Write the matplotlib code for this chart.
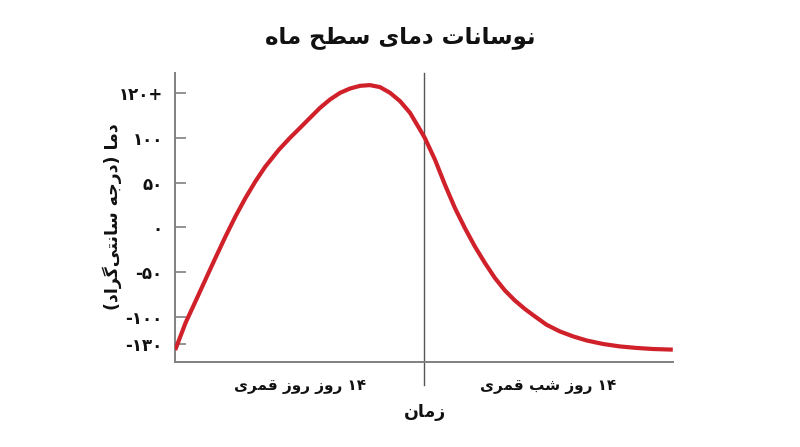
import matplotlib
matplotlib.use("Agg")
import matplotlib.pyplot as plt

# curve: time in days, temperature on the drawn scale
days = [0.0, 0.58, 1.14, 1.70, 2.26, 2.83, 3.39, 3.95, 4.51, 5.07, 5.83,
        6.46, 7.03, 7.59, 8.15, 8.71, 9.28, 9.84, 10.40, 10.96, 11.52, 12.09,
        12.65, 13.21, 13.77, 14.05, 14.62, 15.18, 15.74, 16.30, 16.86, 17.43,
        17.99, 18.55, 19.11, 19.68, 20.14, 20.89, 21.64, 22.39, 23.14, 24.08,
        25.01, 25.95, 26.89, 28.0]
temps = [-137, -106.8, -82.7, -58.4, -34.2, -10.1, 12.3, 32.8, 51.4, 68.0, 86.8,
         100.2, 111.4, 122.6, 133.7, 143.0, 150.5, 155.3, 158.3, 159.1, 156.9, 150.5,
         141.2, 128.2, 109.5, 99.9, 75.6, 47.7, 21.7, -0.7, -21.2, -39.8,
         -56.5, -70.4, -81.6, -91.2, -98.0, -108.7, -116.2, -121.8, -126.3, -130.3,
         -133.0, -134.7, -135.9, -136.6]

ytick_vals = [150, 100, 50, 0, -50, -100, -130]
ytick_labels = ["۱۲۰+", "۱۰۰", "۵۰", "۰", "-۵۰", "-۱۰۰", "-۱۳۰"]

title = "نوسانات دمای سطح ماه"
ylabel = "دما (درجه سانتی\u200cگراد)"
xlabel = "زمان"
day_label = "۱۴ روز روز قمری"
night_label = "۱۴ روز شب قمری"

# minimal Persian shaping (no reshaper lib in the sandbox)
FORMS = {
    "ا": ("\uFE8D", "\uFE8E", None, None),
    "ب": ("\uFE8F", "\uFE90", "\uFE91", "\uFE92"),
    "ت": ("\uFE95", "\uFE96", "\uFE97", "\uFE98"),
    "ج": ("\uFE9D", "\uFE9E", "\uFE9F", "\uFEA0"),
    "ح": ("\uFEA1", "\uFEA2", "\uFEA3", "\uFEA4"),
    "د": ("\uFEA9", "\uFEAA", None, None),
    "ر": ("\uFEAD", "\uFEAE", None, None),
    "ز": ("\uFEAF", "\uFEB0", None, None),
    "س": ("\uFEB1", "\uFEB2", "\uFEB3", "\uFEB4"),
    "ش": ("\uFEB5", "\uFEB6", "\uFEB7", "\uFEB8"),
    "ط": ("\uFEC1", "\uFEC2", "\uFEC3", "\uFEC4"),
    "ق": ("\uFED5", "\uFED6", "\uFED7", "\uFED8"),
    "م": ("\uFEE1", "\uFEE2", "\uFEE3", "\uFEE4"),
    "ن": ("\uFEE5", "\uFEE6", "\uFEE7", "\uFEE8"),
    "ه": ("\uFEE9", "\uFEEA", "\uFEEB", "\uFEEC"),
    "و": ("\uFEED", "\uFEEE", None, None),
    "ی": ("\uFBFC", "\uFBFD", "\uFBFE", "\uFBFF"),
    "گ": ("\uFB92", "\uFB93", "\uFB94", "\uFB95"),
}
DIGITS = set("۰۱۲۳۴۵۶۷۸۹0123456789")
MIRROR = {"(": ")", ")": "("}


def fa(text):
    shaped = []
    for i, ch in enumerate(text):
        if ch not in FORMS:
            shaped.append(ch)
            continue
        prev = text[i - 1] if i > 0 else ""
        nxt = text[i + 1] if i + 1 < len(text) else ""
        join_prev = prev in FORMS and FORMS[prev][2] is not None
        join_next = nxt in FORMS and FORMS[ch][2] is not None
        iso, fin, ini, med = FORMS[ch]
        if join_prev and join_next:
            shaped.append(med)
        elif join_prev:
            shaped.append(fin)
        elif join_next:
            shaped.append(ini)
        else:
            shaped.append(iso)
    shaped = [c for c in shaped if c != "\u200c"]
    # visual order: reverse, keeping digit runs left to right
    runs = []
    for c in shaped:
        if c in DIGITS and runs and runs[-1][0] in DIGITS:
            runs[-1] += c
        else:
            runs.append(c)
    return "".join(MIRROR.get(r, r) for r in reversed(runs))


plt.rcParams["font.family"] = ["DejaVu Sans"]
ink = "#111111"

fig = plt.figure(figsize=(8, 4.47), dpi=100)
ax = fig.add_axes([0.219, 0.191, 0.622, 0.646])

ax.plot(days, temps, color="#d0202a", linewidth=3.0, solid_joinstyle="round",
        solid_capstyle="butt", zorder=3)
ax.axvline(14, ymin=-0.081, ymax=1, color="#555555", linewidth=1.0, clip_on=False, zorder=2)

ax.set_xlim(0, 28)
ax.set_ylim(-150, 172.8)

for side in ["top", "right"]:
    ax.spines[side].set_visible(False)
for side in ["left", "bottom"]:
    ax.spines[side].set_color("#808080")
    ax.spines[side].set_linewidth(1.4)

ax.set_xticks([])
ax.set_yticks(ytick_vals)
ax.set_yticklabels(ytick_labels, fontsize=12, fontweight="bold", color=ink)
ax.tick_params(axis="y", direction="in", length=8, width=1.2, color="#808080", pad=9)

fig.text(0.5, 0.915, fa(title), ha="center", va="center", fontsize=16.5,
         fontweight="bold", color=ink)
fig.text(0.14, 0.515, fa(ylabel), ha="center", va="center", rotation=90,
         fontsize=12.5, fontweight="bold", color=ink)
fig.text(0.531, 0.078, fa(xlabel), ha="center", va="center", fontsize=12.5,
         fontweight="bold", color=ink)
ax.text(7, -0.085, fa(day_label), transform=ax.get_xaxis_transform(), ha="center",
        va="center", fontsize=11, fontweight="bold", color=ink)
ax.text(21, -0.085, fa(night_label), transform=ax.get_xaxis_transform(), ha="center",
        va="center", fontsize=11, fontweight="bold", color=ink)

fig.savefig("out.png", dpi=100, facecolor="white")
